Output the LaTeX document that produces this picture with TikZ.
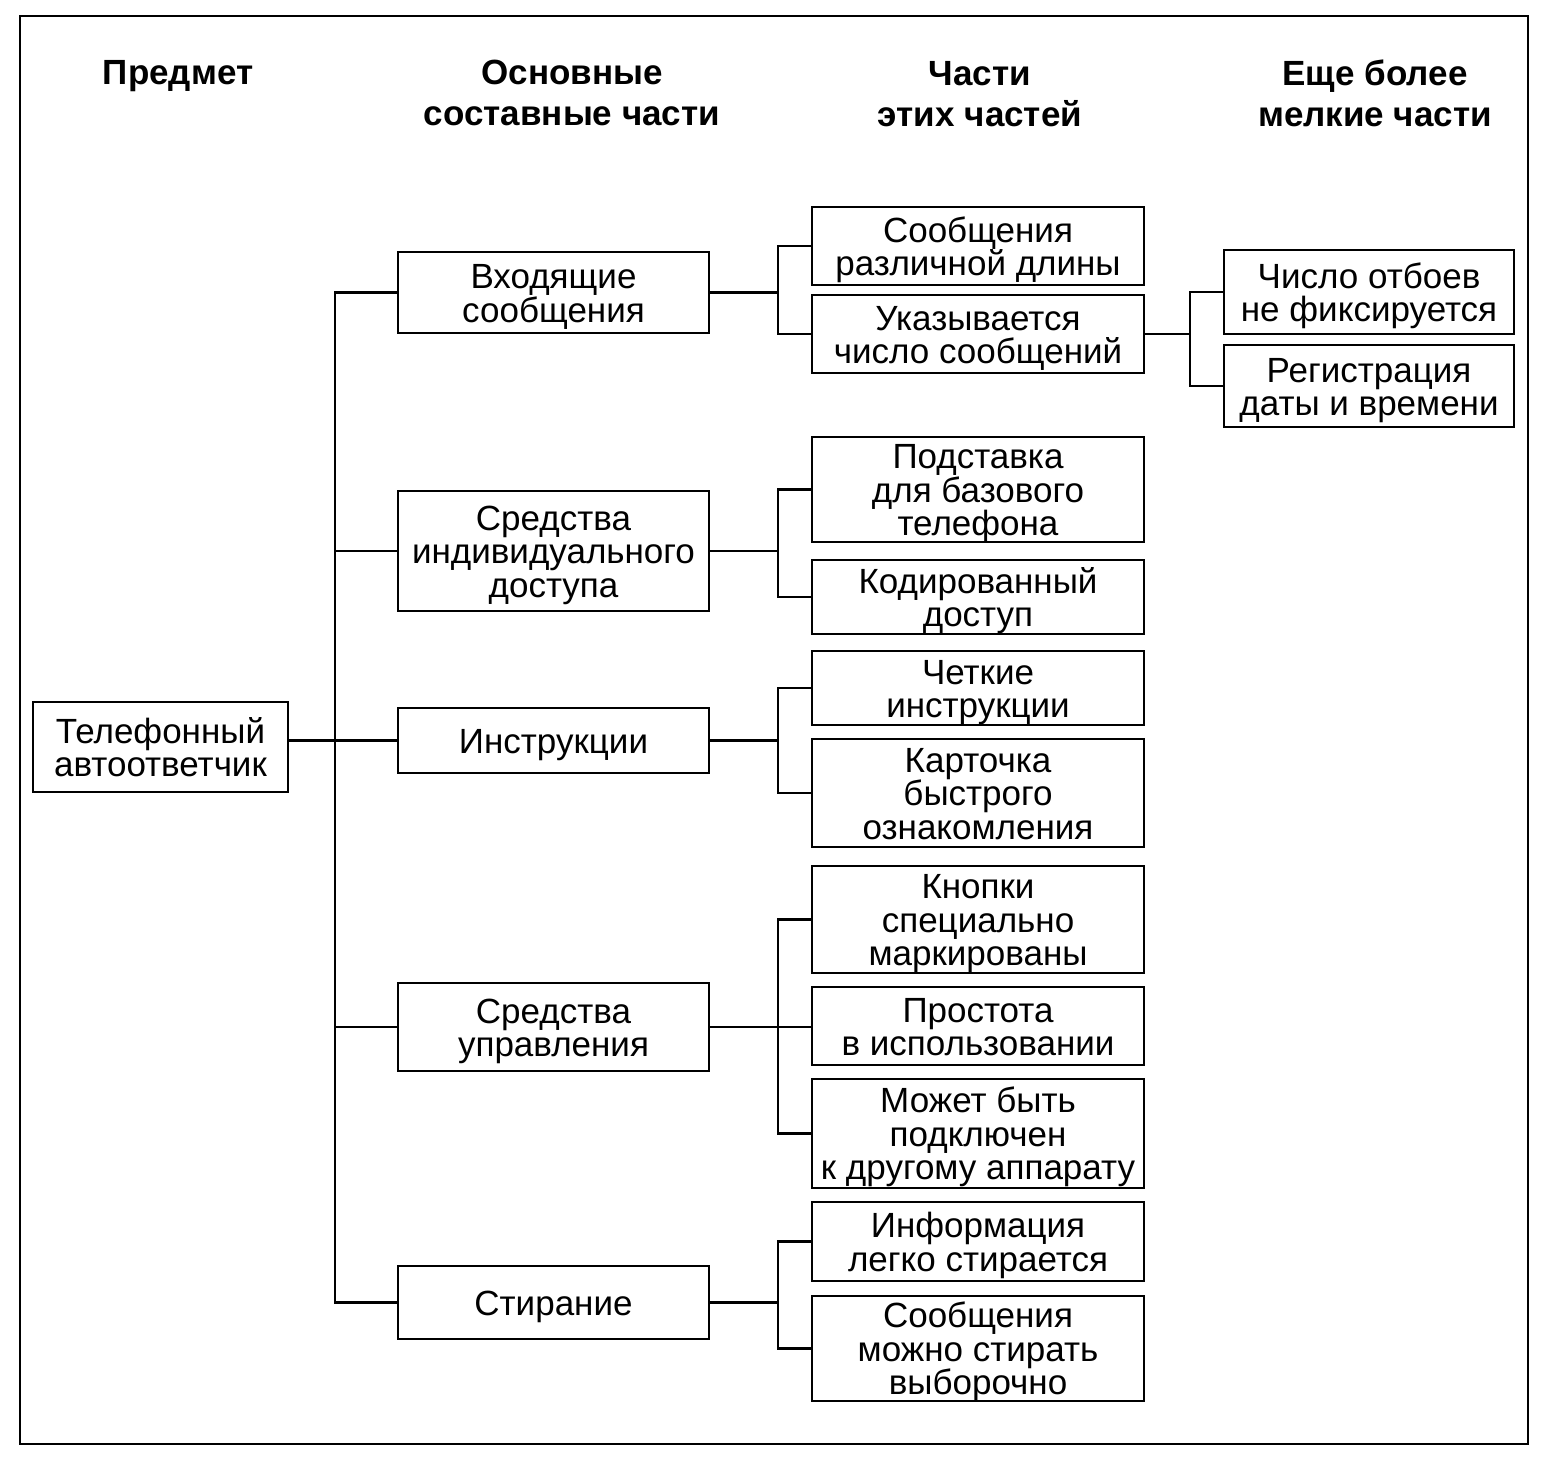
\documentclass[tikz,border=0pt]{standalone}
\usepackage{fontspec}
\setmainfont{Liberation Sans}
\renewcommand{\arraystretch}{0}
\newcommand{\lx}[1]{\rule[-4pt]{0pt}{33.5pt}\smash{#1}}
\newcommand{\hx}[1]{\rule[-7.75pt]{0pt}{41pt}\smash{#1}}
\newcommand{\mtab}[1]{\begin{tabular}{@{}c@{}}#1\end{tabular}}
\begin{document}
\begin{tikzpicture}[x=1pt,y=-1pt,
  box/.style={draw,line width=2.8pt,rectangle,inner sep=0pt,
    font=\fontsize{35}{33.5}\selectfont},
  head/.style={inner sep=0pt,font=\fontsize{35}{41}\selectfont\bfseries},
  conn/.style={line width=2.8pt}]
\useasboundingbox (0,0) rectangle (1546,1476);
\draw[line width=2.6pt] (20,16) rectangle (1528,1444);
% headers
\node[head] (h1) at (178,72) {\mtab{\hx{Предмет}}};
\node[head] (h2) at (572,92.5) {\mtab{\hx{Основные}\\\hx{составные части}}};
\node[head] (h3) at (980,93.5) {\mtab{\hx{Части}\\\hx{этих частей}}};
\node[head] (h4) at (1375,93.5) {\mtab{\hx{Еще более}\\\hx{мелкие части}}};
% column 1
\node[box,minimum width=255,minimum height=90] (root) at (160.5,747) {\mtab{\lx{Телефонный}\\\lx{автоответчик}}};
% column 2
\tikzset{c2/.style={box,minimum width=311}}
\node[c2,minimum height=81] (in) at (553.5,292.5) {\mtab{\lx{Входящие}\\\lx{сообщения}}};
\node[c2,minimum height=120] (acc) at (553.5,551) {\mtab{\lx{Средства}\\\lx{индивидуального}\\\lx{доступа}}};
\node[c2,minimum height=65] (ins) at (553.5,740.5) {\mtab{\lx{Инструкции}}};
\node[c2,minimum height=88] (ctl) at (553.5,1027) {\mtab{\lx{Средства}\\\lx{управления}}};
\node[c2,minimum height=73] (era) at (553.5,1302.5) {\mtab{\lx{Стирание}}};
% column 3
\tikzset{c3/.style={box,minimum width=332}}
\node[c3,minimum height=78] (a1) at (978,246) {\mtab{\lx{Сообщения}\\\lx{различной длины}}};
\node[c3,minimum height=78] (a2) at (978,334) {\mtab{\lx{Указывается}\\\lx{число сообщений}}};
\node[c3,minimum height=105] (b1) at (978,489.5) {\mtab{\lx{Подставка}\\\lx{для базового}\\\lx{телефона}}};
\node[c3,minimum height=74] (b2) at (978,597) {\mtab{\lx{Кодированный}\\\lx{доступ}}};
\node[c3,minimum height=74] (c1) at (978,688) {\mtab{\lx{Четкие}\\\lx{инструкции}}};
\node[c3,minimum height=108] (c2) at (978,793) {\mtab{\lx{Карточка}\\\lx{быстрого}\\\lx{ознакомления}}};
\node[c3,minimum height=107] (d1) at (978,919.5) {\mtab{\lx{Кнопки}\\\lx{специально}\\\lx{маркированы}}};
\node[c3,minimum height=78] (d2) at (978,1026) {\mtab{\lx{Простота}\\\lx{в использовании}}};
\node[c3,minimum height=109] (d3) at (978,1133.5) {\mtab{\lx{Может быть}\\\lx{подключен}\\\lx{к другому аппарату}}};
\node[c3,minimum height=79] (e1) at (978,1241.5) {\mtab{\lx{Информация}\\\lx{легко стирается}}};
\node[c3,minimum height=105] (e2) at (978,1348.5) {\mtab{\lx{Сообщения}\\\lx{можно стирать}\\\lx{выборочно}}};
% column 4
\tikzset{c4/.style={box,minimum width=290}}
\node[c4,minimum height=84] (f1) at (1369,292) {\mtab{\lx{Число отбоев}\\\lx{не фиксируется}}};
\node[c4,minimum height=82] (f2) at (1369,386) {\mtab{\lx{Регистрация}\\\lx{даты и времени}}};
% bus coordinates
\coordinate (tx) at (335,0);
\coordinate (bx) at (778,0);
\coordinate (cx) at (1190,0);
% column 1 -> 2
\draw[conn] (ins.west) -- (ins.west -| root.east);
\draw[conn] (in.west) -- (in.west -| tx) -- (era.west -| tx) -- (era.west);
\draw[conn] (acc.west) -- (acc.west -| tx);
\draw[conn] (ctl.west) -- (ctl.west -| tx);
% column 2 -> 3
\draw[conn] (in.east) -- (in.east -| bx);
\draw[conn] (a1.west) -- (a1.west -| bx) -- (a2.west -| bx) -- (a2.west);
\draw[conn] (acc.east) -- (acc.east -| bx);
\draw[conn] (b1.west) -- (b1.west -| bx) -- (b2.west -| bx) -- (b2.west);
\draw[conn] (ins.east) -- (ins.east -| bx);
\draw[conn] (c1.west) -- (c1.west -| bx) -- (c2.west -| bx) -- (c2.west);
\draw[conn] (ctl.east) -- (ctl.east -| d2.west);
\draw[conn] (d1.west) -- (d1.west -| bx) -- (d3.west -| bx) -- (d3.west);
\draw[conn] (era.east) -- (era.east -| bx);
\draw[conn] (e1.west) -- (e1.west -| bx) -- (e2.west -| bx) -- (e2.west);
% column 3 -> 4
\draw[conn] (a2.east) -- (a2.east -| cx);
\draw[conn] (f1.west) -- (f1.west -| cx) -- (f2.west -| cx) -- (f2.west);
\end{tikzpicture}
\end{document}
